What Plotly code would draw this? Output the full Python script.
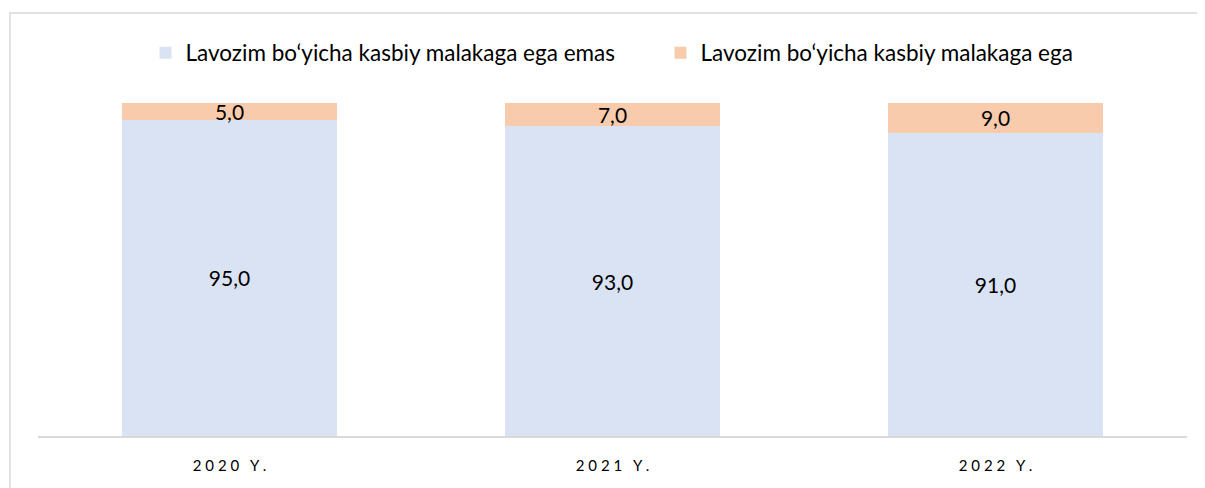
import plotly.graph_objects as go

categories = ["2020 Y.", "2021 Y.", "2022 Y."]
tick_labels = ["2 0 2 0   Y .", "2 0 2 1   Y .", "2 0 2 2   Y ."]
series_names = ["Lavozim bo‘yicha kasbiy malakaga ega emas", "Lavozim bo‘yicha kasbiy malakaga ega"]
not_qualified = [95.0, 93.0, 91.0]
qualified = [5.0, 7.0, 9.0]

FONT = "Lato, Open Sans, sans-serif"

# page body has an 8px default margin; compensate
W, H = 1197, 480
ML, MR, MT, MB = 30, 18, 95, 52
PW, PH = W - ML - MR, H - MT - MB

fig = go.Figure()
fig.add_trace(go.Bar(
    x=categories, y=not_qualified, name=series_names[0],
    marker=dict(color="#DAE3F3", line=dict(width=0)),
    texttemplate="%{y:.1f}", textposition="inside", insidetextanchor="middle",
    constraintext="none",
    textfont=dict(size=21, color="#000000", family=FONT),
))
fig.add_trace(go.Bar(
    x=categories, y=qualified, name=series_names[1],
    marker=dict(color="#F8CBAD", line=dict(width=0)),
    texttemplate="%{y:.1f}", textposition="inside", insidetextanchor="middle",
    constraintext="none",
    textfont=dict(size=21, color="#000000", family=FONT),
))

fig.update_layout(
    barmode="stack",
    bargap=0.44,
    separators=",.",
    width=W, height=H,
    margin=dict(l=ML, r=MR, t=MT, b=MB),
    paper_bgcolor="white", plot_bgcolor="white",
    font=dict(family=FONT, color="#000000"),
    legend=dict(orientation="h", x=0.5 + 48 / PW, xanchor="center", y=1 + (MT - 45) / PH, yanchor="middle",
                font=dict(size=22.5, family=FONT), traceorder="normal", itemwidth=30,
                entrywidth=470, entrywidthmode="pixels"),
    xaxis=dict(tickvals=categories, ticktext=tick_labels, showline=True, linecolor="#D9D9D9",
               linewidth=1.5, ticks="", tickfont=dict(size=15, color="#000000", family=FONT),
               ticklabelstandoff=15, fixedrange=True),
    yaxis=dict(range=[0, 100], visible=False, showgrid=False, fixedrange=True),
    shapes=[dict(type="rect", xref="paper", yref="paper",
                 x0=(2 - ML) / PW, x1=(W + 20 - ML) / PW,
                 y0=-(MB + 20) / PH, y1=(H - MB - 5) / PH,
                 line=dict(color="#D9D9D9", width=1.5), fillcolor="rgba(0,0,0,0)", layer="below")],
)

fig.write_html("out.html")
